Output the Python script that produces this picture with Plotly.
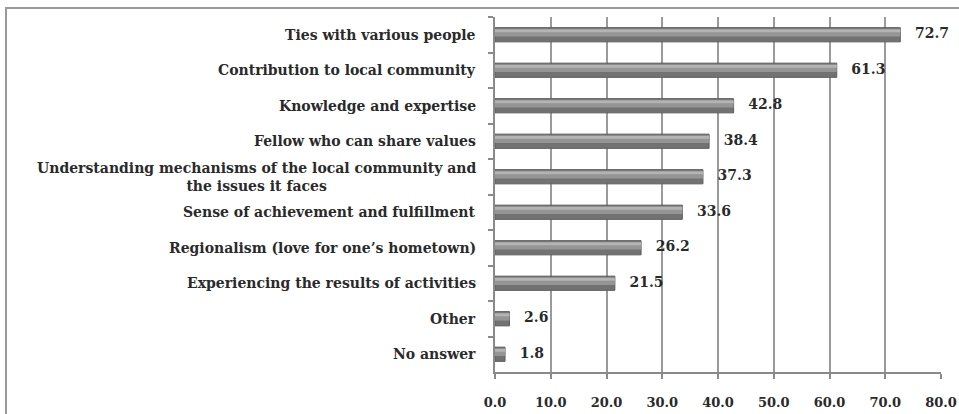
import plotly.graph_objects as go

categories = [
    "Ties with various people",
    "Contribution to local community",
    "Knowledge and expertise",
    "Fellow who can share values",
    "Understanding mechanisms of the local community and<br>the issues it faces",
    "Sense of achievement and fulfillment",
    "Regionalism (love for one\u2019s hometown)",
    "Experiencing the results of activities",
    "Other",
    "No answer",
]
values = [72.7, 61.3, 42.8, 38.4, 37.3, 33.6, 26.2, 21.5, 2.6, 1.8]
x_ticks = [0, 10, 20, 30, 40, 50, 60, 70, 80]

FONT = "DejaVu Serif"
TXT = "#2a2a2a"
W, H = 959, 414
L, R, T, B = 495, 18, 17, 42

fig = go.Figure()
fig.add_trace(go.Bar(
    y=categories, x=values, orientation="h",
    width=0.4, offset=-0.2,
    marker=dict(color="#727272", line=dict(color="#5c5c5c", width=1)),
    hoverinfo="skip", showlegend=False,
))
fig.add_trace(go.Bar(
    y=categories, x=values, orientation="h",
    width=0.22, offset=-0.17,
    marker=dict(color="#959595", line=dict(width=0)),
    hoverinfo="skip", showlegend=False,
))
fig.add_trace(go.Bar(
    y=categories, x=values, orientation="h",
    width=0.08, offset=-0.15,
    marker=dict(color="#b4b4b4", line=dict(width=0)),
    hoverinfo="skip", showlegend=False,
))
fig.add_trace(go.Scatter(
    y=categories, x=values, mode="text",
    text=["\u00a0\u00a0\u00a0" + f"{v:.1f}" for v in values],
    textposition="middle right",
    textfont=dict(family=FONT, size=14, color=TXT, weight="bold"),
    hoverinfo="skip", showlegend=False, cliponaxis=False,
))

for c in categories:
    fig.add_annotation(
        x=0, xref="x domain", y=c, yref="y",
        text=c, showarrow=False, xanchor="right", yanchor="middle",
        align="center", xshift=-17,
        font=dict(family=FONT, size=14, color=TXT, weight="bold"),
    )

# outer frame
fig.add_shape(
    type="rect", xref="paper", yref="paper",
    x0=(6 - L) / (W - L - R), x1=(975 - L) / (W - L - R),
    y0=-(430 - (H - B)) / (H - T - B), y1=1 + (T - 8) / (H - T - B),
    line=dict(color="#9a9a9a", width=2), layer="below",
)

fig.update_layout(
    width=W, height=H,
    margin=dict(l=L, r=R, t=T, b=B, autoexpand=False),
    paper_bgcolor="white", plot_bgcolor="white",
    barmode="overlay",
    font=dict(family=FONT, size=13, color=TXT),
    xaxis=dict(
        range=[0, 80], tickvals=x_ticks,
        ticktext=[f"{v:.1f}" for v in x_ticks],
        showgrid=True, gridcolor="#9a9a9a", gridwidth=1.5,
        showline=True, linecolor="#8a8a8a", linewidth=1.5,
        ticks="outside", ticklen=5, tickcolor="#8a8a8a", tickwidth=1.5,
        ticklabelstandoff=13, zeroline=False, automargin=False,
        tickfont=dict(family=FONT, size=13, color=TXT, weight="bold"),
    ),
    yaxis=dict(
        autorange="reversed", showticklabels=False,
        showline=True, linecolor="#8a8a8a", linewidth=1.5,
        ticks="outside", ticklen=5, tickcolor="#8a8a8a", tickwidth=1.5,
        tickson="boundaries", showgrid=False, zeroline=False, automargin=False,
    ),
)

fig.write_html(
    "out.html",
    config={"displayModeBar": False},
    post_script="document.body.style.margin='0';",
)
